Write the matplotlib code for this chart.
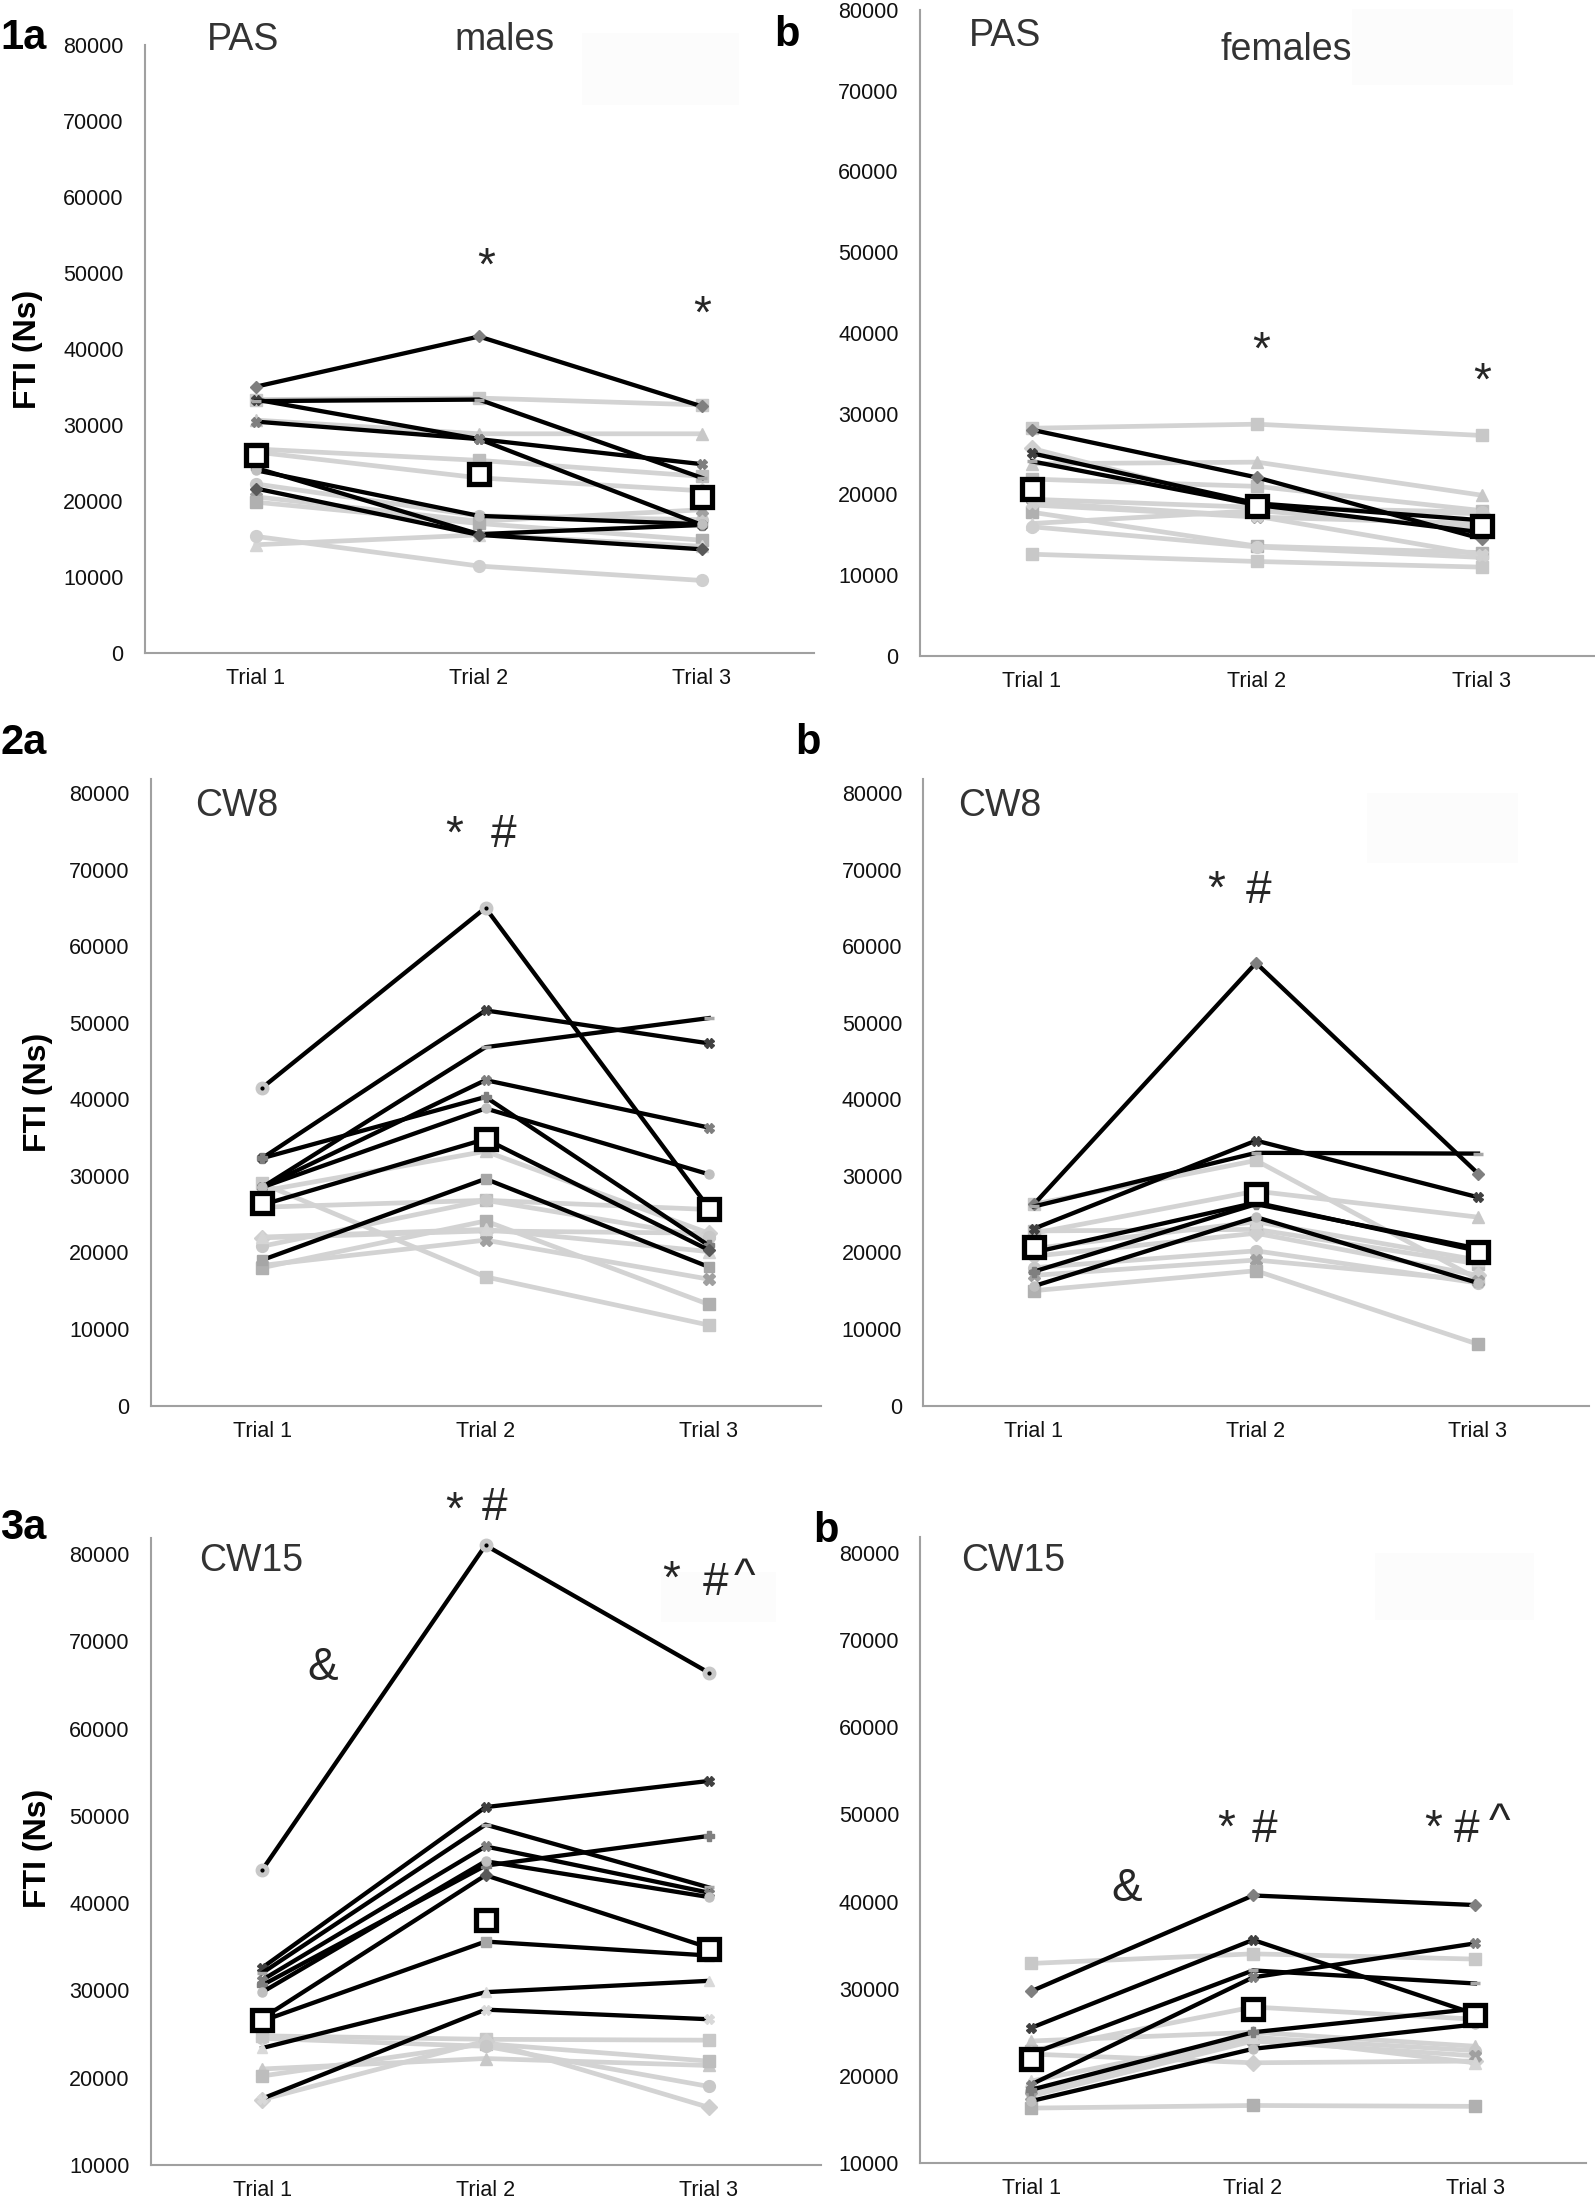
import matplotlib
matplotlib.use("Agg")
import matplotlib.pyplot as plt
from matplotlib.patches import Rectangle

plt.rcParams['font.family'] = ['Liberation Sans', 'DejaVu Sans']

W, H = 1595, 2200

trials = ["Trial 1", "Trial 2", "Trial 3"]
ticks_0_80 = [0, 10000, 20000, 30000, 40000, 50000, 60000, 70000, 80000]
ticks_10_80 = [10000, 20000, 30000, 40000, 50000, 60000, 70000, 80000]

# --- PAS, males (1a) ---
pas_m_black = [
    [35000, 41600, 32400],
    [33300, 28100, 16800],
    [33100, 33300, 23000],
    [30400, 28100, 24800],
    [24300, 15600, 16800],
    [24000, 18000, 16900],
    [21600, 15500, 13600],
]
pas_m_gray = [
    [33300, 33500, 32600],
    [30600, 28800, 28800],
    [26800, 25300, 23200],
    [26400, 23000, 21300],
    [22200, 18000, 17500],
    [20500, 17300, 18800],
    [19800, 17000, 14800],
    [14200, 15500, 14000],
    [15300, 11400, 9500],
]
pas_m_mean = [26000, 23500, 20500]

# --- PAS, females (1b) ---
pas_f_black = [
    [28000, 22100, 14500],
    [25100, 18900, 16800],
    [24100, 18700, 15300],
]
pas_f_gray = [
    [28200, 28700, 27300],
    [23800, 24000, 19900],
    [21900, 21000, 18000],
    [25700, 18500, 17600],
    [19400, 18400, 17800],
    [18700, 17200, 16400],
    [17800, 13600, 12800],
    [16400, 18000, 15800],
    [16000, 13500, 12200],
    [12600, 11700, 11000],
    [19000, 17300, 12500],
]
pas_f_mean = [20700, 18600, 16100]

# --- CW8, males (2a) ---
cw8_m_black = [
    [41500, 65000, 25800],
    [32300, 51600, 47300],
    [28500, 46800, 50600],
    [28500, 42500, 36300],
    [32300, 40300, 20900],
    [28500, 38800, 30200],
    [26200, 34800, 20300],
    [19000, 29600, 18100],
]
cw8_m_gray = [
    [29000, 16800, 10500],
    [28000, 33200, 22500],
    [25900, 26800, 25600],
    [21900, 22800, 22500],
    [20800, 26800, 22000],
    [18300, 21600, 16500],
    [18000, 24100, 13200],
    [22000, 23000, 20100],
]
cw8_m_mean = [26400, 34800, 25600]

# --- CW8, females (2b) ---
cw8_f_black = [
    [26300, 57800, 30300],
    [23100, 34600, 27200],
    [26000, 33000, 32900],
    [20000, 26500, 20200],
    [17500, 26300, 20500],
    [15600, 24600, 16000],
]
cw8_f_gray = [
    [26300, 32000, 16500],
    [22500, 28000, 24600],
    [22800, 23000, 18500],
    [19500, 22500, 17000],
    [18000, 20200, 16000],
    [17000, 19000, 16300],
    [15000, 17600, 8000],
    [20500, 24000, 19000],
]
cw8_f_mean = [20750, 27600, 20000]

# --- CW15, males (3a) ---
cw15_m_black = [
    [43800, 81000, 66400],
    [32600, 51000, 54000],
    [32000, 49000, 41800],
    [31200, 46500, 41200],
    [30600, 44300, 47700],
    [29800, 44800, 40700],
    [26800, 43200, 34900],
    [26500, 35600, 34000],
    [23400, 29800, 31100],
    [17600, 27800, 26700],
]
cw15_m_gray = [
    [24800, 24400, 24300],
    [21000, 22200, 21400],
    [20200, 23900, 21900],
    [17500, 24200, 16600],
    [24500, 23600, 19000],
]
cw15_m_mean = [26600, 38100, 34800]

# --- CW15, females (3b) ---
cw15_f_black = [
    [29700, 40700, 39600],
    [25500, 35600, 27100],
    [22500, 32100, 30600],
    [19000, 31300, 35200],
    [18400, 25000, 27700],
    [17100, 23100, 25900],
]
cw15_f_gray = [
    [32900, 34000, 33400],
    [24000, 25000, 23400],
    [22900, 27900, 26500],
    [22500, 21500, 21700],
    [18200, 24400, 22900],
    [17700, 24000, 22300],
    [16300, 16600, 16500],
    [19400, 24500, 21500],
]
cw15_f_mean = [21900, 27700, 27000]

# styles
GRAY = "#d3d3d3"
BLACK_MK = [("D", "#7f7f7f"), ("X", "#404040"), ("_", "#a6a6a6"), ("X", "#7f7f7f"),
            ("P", "#7f7f7f"), ("o", "#bfbfbf"), ("D", "#595959"), ("s", "#a6a6a6"),
            ("^", "#d9d9d9"), ("X", "#d9d9d9")]
GRAY_MK = [("s", "#c8c8c8"), ("^", "#c8c8c8"), ("s", "#bdbdbd"), ("D", "#cfcfcf"),
           ("o", "#c8c8c8"), ("X", "#a0a0a0"), ("s", "#b0b0b0"), ("^", "#d5d5d5"),
           ("o", "#cfcfcf"), ("s", "#c8c8c8"), ("X", "#d0d0d0")]


def px_rect(left, right, top, bottom):
    return [left / W, 1 - bottom / H, (right - left) / W, (bottom - top) / H]


def draw_panel(ax, black, gray, mean, ylim, yticks, peak_dot=False):
    x = [1, 2, 3]
    for i, row in enumerate(gray):
        m, c = GRAY_MK[i % len(GRAY_MK)]
        ax.plot(x, row, color=GRAY, lw=3.4, marker=m, ms=8.5, mfc=c, mec=c,
                mew=1, zorder=2)
    for i, row in enumerate(black):
        m, c = BLACK_MK[i % len(BLACK_MK)]
        if i == 0 and peak_dot:
            ax.plot(x, row, color="black", lw=3.1, marker="o", ms=9, mfc="#c8c8c8",
                    mec="#c8c8c8", zorder=3)
            ax.plot(x, row, ls="none", marker=".", ms=4, color="black", zorder=3)
            continue
        ax.plot(x, row, color="black", lw=3.1, marker=m, ms=6.5, mfc=c, mec=c,
                mew=2.5 if m == "_" else 1, zorder=3)
    ax.plot(x, mean, ls="none", marker="s", ms=15, mfc="white", mec="black",
            mew=3.8, zorder=6)
    ax.set_xlim(0.5, 3.5)
    ax.set_ylim(*ylim)
    ax.set_xticks(x)
    ax.set_xticklabels(trials)
    ax.set_yticks(yticks)
    ax.set_yticklabels([str(t) for t in yticks])
    for s in ("top", "right"):
        ax.spines[s].set_visible(False)
    for s in ("left", "bottom"):
        ax.spines[s].set_color("#a0a0a0")
        ax.spines[s].set_linewidth(1.5)
    ax.tick_params(length=0, labelsize=15.5, labelcolor="#111111")
    ax.tick_params(axis="y", pad=15)
    ax.tick_params(axis="x", pad=11)
    ax.patch.set_alpha(0)


fig = plt.figure(figsize=(W / 100, H / 100), dpi=100)

# faint leftover legend boxes
for (l, t, r, b) in [(582, 33, 739, 105), (1352, 9, 1513, 85), (1367, 793, 1518, 863),
                     (661, 1572, 776, 1622), (1375, 1553, 1534, 1620)]:
    fig.add_artist(Rectangle((l / W, 1 - b / H), (r - l) / W, (b - t) / H,
                             transform=fig.transFigure, facecolor="#fcfcfc",
                             edgecolor="none", zorder=-1))

ax1a = fig.add_axes(px_rect(144.5, 813.5, 44.6, 652.7))
ax1b = fig.add_axes(px_rect(919.5, 1594.5, 9.8, 656))
ax2a = fig.add_axes(px_rect(150.5, 820.5, 779.2, 1405.5))
ax2b = fig.add_axes(px_rect(923, 1589, 779.2, 1405.5))
ax3a = fig.add_axes(px_rect(150.5, 820.5, 1538.3, 2165))
ax3b = fig.add_axes(px_rect(920, 1586, 1537.3, 2163))

draw_panel(ax1a, pas_m_black, pas_m_gray, pas_m_mean, (0, 80000), ticks_0_80)
draw_panel(ax1b, pas_f_black, pas_f_gray, pas_f_mean, (0, 80000), ticks_0_80)
draw_panel(ax2a, cw8_m_black, cw8_m_gray, cw8_m_mean, (0, 81800), ticks_0_80, peak_dot=True)
draw_panel(ax2b, cw8_f_black, cw8_f_gray, cw8_f_mean, (0, 81800), ticks_0_80)
draw_panel(ax3a, cw15_m_black, cw15_m_gray, cw15_m_mean, (10000, 81800), ticks_10_80, peak_dot=True)
draw_panel(ax3b, cw15_f_black, cw15_f_gray, cw15_f_mean, (10000, 81800), ticks_10_80)


def ftext(x, y, s, **kw):
    fig.text(x / W, 1 - y / H, s, **kw)


# panel letters
for s, x, y in [("1a", 0, 38), ("b", 774, 35), ("2a", 0, 743), ("b", 795, 743),
                ("3a", 0, 1528), ("b", 813, 1531)]:
    ftext(x, y, s, fontsize=30, fontweight="bold", ha="left", va="center")

# condition labels
for s, x, y in [("PAS", 243, 40), ("males", 505, 40), ("PAS", 1005, 36),
                ("females", 1286, 50), ("CW8", 237, 806), ("CW8", 1000, 806),
                ("CW15", 251, 1561), ("CW15", 1013, 1561)]:
    ftext(x, y, s, fontsize=27, color="#333333", ha="center", va="center")

# y labels
for x, y in [(28, 349), (38, 1092), (38, 1848)]:
    ftext(x, y, "FTI (Ns)", fontsize=23, fontweight="bold", rotation=90,
          ha="center", va="center")

# significance symbols
sym_shift = {"*": -10, "^": -9, "#": -3, "&": -3}
symbols = [
    (ax1a, 2.03, 52500, "*"), (ax1a, 3.0, 46100, "*"),
    (ax1b, 2.02, 39400, "*"), (ax1b, 3.0, 35600, "*"),
    (ax2a, 1.86, 76200, "*"), (ax2a, 2.08, 75000, "#"),
    (ax2b, 1.82, 69000, "*"), (ax2b, 2.01, 67800, "#"),
    (ax3a, 1.27, 67400, "&"), (ax3a, 1.86, 86400, "*"), (ax3a, 2.04, 85800, "#"),
    (ax3a, 2.83, 78500, "*"), (ax3a, 3.03, 77100, "#"), (ax3a, 3.16, 78700, "^"),
    (ax3b, 1.43, 41900, "&"), (ax3b, 1.88, 49800, "*"), (ax3b, 2.05, 48700, "#"),
    (ax3b, 2.81, 49800, "*"), (ax3b, 2.96, 48700, "#"), (ax3b, 3.11, 50400, "^"),
]
for ax, x, y, s in symbols:
    ax.annotate(s, (x, y), xytext=(0, sym_shift[s]), textcoords="offset points",
                fontsize=33, color="#262626", ha="center", va="center",
                annotation_clip=False, zorder=7)

fig.savefig("out.png", dpi=100, facecolor="white")
